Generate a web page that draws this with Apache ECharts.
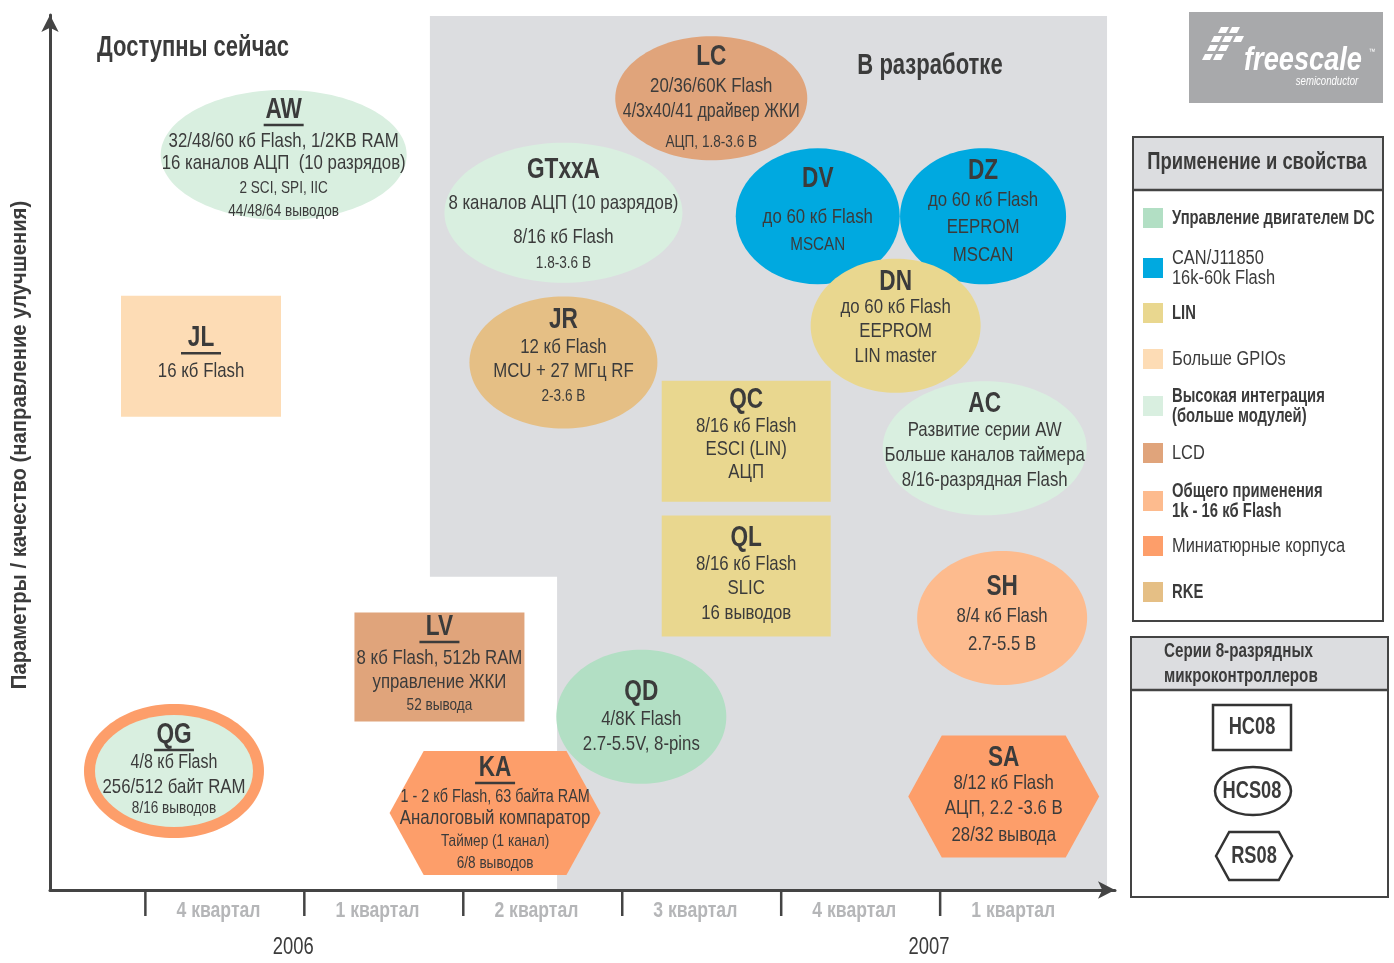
<!DOCTYPE html>
<html>
<head>
<meta charset="utf-8">
<script src="https://cdn.jsdelivr.net/npm/echarts@6/dist/echarts.min.js"></script>
<style>
  html, body { margin: 0; padding: 0; background: #fff; }
  #chart { width: 1394px; height: 963px; }
</style>
</head>
<body>
<div id="chart"></div>
<script>
const FONT = '"Liberation Sans", Arial, sans-serif';
const INK = '#3b3b3b';
const SX = 0.8; // condensed look

// application categories (legend)
const categoryNames = ['Управление двигателем DC', 'CAN/J11850\n16k-60k Flash', 'LIN', 'Больше GPIOs',
  'Высокая интеграция\n(больше модулей)', 'LCD', 'Общего применения\n1k - 16 кб Flash', 'Миниатюрные корпуса', 'RKE'];
const categoryBold = [true, false, true, false, true, false, true, false, true];
const categoryColors = ['#b2dfc4', '#00a9e0', '#e9d78f', '#fddcb5', '#d9efe0', '#e0a47b', '#fdbb8e', '#fd9e6a', '#e5bf85'];

// cores -> outline shape
const coreNames = ['HC08', 'HCS08', 'RS08'];
const coreShapes = ['rect', 'ellipse', 'hexagon'];

// time axis
const quarterBounds = [0, 1, 2, 3, 4, 5];
const quarterLabels = ['4 квартал', '1 квартал', '2 квартал', '3 квартал', '4 квартал', '1 квартал'];
const yearLabels = ['2006', '2007'];
const yearPos = [0.93, 4.93];

// "in development" area (quarter, level)
const devRegion = [[1.79, 99.9], [6.05, 99.9], [6.05, 0], [2.59, 0], [2.59, 35.8], [1.79, 35.8]];

// MCU families
const families = ['AW', 'JL', 'QG', 'LV', 'KA', 'GTxxA', 'LC', 'JR', 'QC', 'QL', 'QD', 'DV', 'DZ', 'DN', 'AC', 'SH', 'SA'];
const familyQuarter = [0.87, 0.35, 0.18, 1.85, 2.2, 2.63, 3.56, 2.63, 3.78, 3.78, 3.12, 4.23, 5.27, 4.72, 5.28, 5.39, 5.4];
const familyLevel = [84.0, 61.0, 13.6, 25.5, 8.8, 77.4, 90.5, 60.3, 51.3, 35.9, 19.8, 77.0, 77.0, 64.5, 50.5, 31.1, 10.7];
const familyCategory = [4, 3, 4, 5, 7, 4, 5, 8, 2, 2, 0, 1, 1, 2, 4, 6, 7];
const familyRing = [-1, -1, 7, -1, -1, -1, -1, -1, -1, -1, -1, -1, -1, -1, -1, -1, -1];
const familyCore = [1, 0, 1, 0, 2, 1, 1, 1, 0, 0, 1, 1, 1, 1, 1, 1, 2];
const familyAvailable = [1, 1, 1, 1, 1, 0, 0, 0, 0, 0, 0, 0, 0, 0, 0, 0, 0];
const familyLines = [
  ['32/48/60 кб Flash, 1/2KB RAM', '16 каналов АЦП  (10 разрядов)', '2 SCI, SPI, IIC', '44/48/64 выводов'],
  ['16 кб Flash'],
  ['4/8 кб Flash', '256/512 байт RAM', '8/16 выводов'],
  ['8 кб Flash, 512b RAM', 'управление ЖКИ', '52 вывода'],
  ['1 - 2 кб Flash, 63 байта RAM', 'Аналоговый компаратор', 'Таймер (1 канал)', '6/8 выводов'],
  ['8 каналов АЦП (10 разрядов)', '8/16 кб Flash', '1.8-3.6 В'],
  ['20/36/60K Flash', '4/3x40/41 драйвер ЖКИ', 'АЦП, 1.8-3.6 В'],
  ['12 кб Flash', 'MCU + 27 МГц RF', '2-3.6 В'],
  ['8/16 кб Flash', 'ESCI (LIN)', 'АЦП'],
  ['8/16 кб Flash', 'SLIC', '16 выводов'],
  ['4/8K Flash', '2.7-5.5V, 8-pins'],
  ['до 60 кб Flash', 'MSCAN'],
  ['до 60 кб Flash', 'EEPROM', 'MSCAN'],
  ['до 60 кб Flash', 'EEPROM', 'LIN master'],
  ['Развитие серии AW', 'Больше каналов таймера', '8/16-разрядная Flash'],
  ['8/4 кб Flash', '2.7-5.5 В'],
  ['8/12 кб Flash', 'АЦП, 2.2 -3.6 В', '28/32 вывода']
];

// box sizes and text offsets, px
const nodeLayout = {
  AW: { w: 246, h: 130, t: -45, dy: [-14, 8, 33, 56], fs: [20, 20, 16, 16] },
  JL: { w: 160, h: 121, t: -18, dy: [15], fs: [20] },
  QG: { w: 180, h: 134, t: -36, dy: [-9, 16, 37], fs: [19, 20, 16] },
  LV: { w: 170, h: 109, t: -40, dy: [-9, 15, 38], fs: [20, 20, 16] },
  KA: { w: 211, h: 124, t: -45, dy: [-16, 5, 28, 50], fs: [17, 20, 16, 16] },
  GTxxA: { w: 238, h: 140, t: -43, dy: [-10, 24, 51], fs: [20, 20, 16] },
  LC: { w: 192, h: 124, t: -41, dy: [-12, 13, 44], fs: [20, 19, 16] },
  JR: { w: 188, h: 132, t: -42, dy: [-15, 9, 34], fs: [20, 20, 16] },
  QC: { w: 169, h: 121, t: -41, dy: [-15, 8, 31], fs: [20, 20, 20] },
  QL: { w: 169, h: 121, t: -38, dy: [-12, 12, 37], fs: [20, 20, 20] },
  QD: { w: 170, h: 134, t: -25, dy: [2, 27], fs: [20, 20] },
  DV: { w: 164, h: 136, t: -37, dy: [1, 29], fs: [20, 18] },
  DZ: { w: 166, h: 136, t: -45, dy: [-16, 11, 39], fs: [20, 20, 20] },
  DN: { w: 170, h: 134, t: -44, dy: [-18, 6, 31], fs: [20, 20, 20] },
  AC: { w: 204, h: 134, t: -44, dy: [-18, 7, 32], fs: [20, 20, 20] },
  SH: { w: 170, h: 134, t: -31, dy: [-2, 26], fs: [20, 20] },
  SA: { w: 191, h: 122, t: -38, dy: [-13, 12, 39], fs: [20, 20, 20] }
};

function hexPoints(cx, cy, w, h) {
  const hw = w / 2, hh = h / 2, ins = hh * 0.55;
  return [[cx - hw, cy], [cx - hw + ins, cy - hh], [cx + hw - ins, cy - hh],
          [cx + hw, cy], [cx + hw - ins, cy + hh], [cx - hw + ins, cy + hh]];
}

function txt(text, x, y, size, opts) {
  opts = opts || {};
  return {
    type: 'text', x: x, y: y, z: opts.z || 0, z2: 20,
    scaleX: opts.sx || SX, rotation: opts.rotation || 0,
    style: {
      text: text, fill: opts.fill || INK,
      font: (opts.italic ? 'italic ' : '') + (opts.bold ? 'bold ' : '') + size + 'px ' + (opts.family || FONT),
      align: opts.align || 'center', verticalAlign: 'middle', lineHeight: opts.lineHeight
    }
  };
}

function renderFamily(params, api) {
  const i = api.value(2);
  const code = families[i];
  const L = nodeLayout[code];
  const c = api.coord([api.value(0), api.value(1)]);
  const fill = categoryColors[familyCategory[i]];
  const shape = coreShapes[familyCore[i]];
  const kids = [];
  if (shape === 'ellipse') {
    if (familyRing[i] >= 0) {
      kids.push({ type: 'ellipse', shape: { cx: c[0], cy: c[1], rx: L.w / 2, ry: L.h / 2 }, style: { fill: categoryColors[familyRing[i]] } });
      kids.push({ type: 'ellipse', shape: { cx: c[0], cy: c[1], rx: L.w / 2 - 11, ry: L.h / 2 - 11 }, style: { fill: fill } });
    } else {
      kids.push({ type: 'ellipse', shape: { cx: c[0], cy: c[1], rx: L.w / 2, ry: L.h / 2 }, style: { fill: fill } });
    }
  } else if (shape === 'rect') {
    kids.push({ type: 'rect', shape: { x: c[0] - L.w / 2, y: c[1] - L.h / 2, width: L.w, height: L.h }, style: { fill: fill } });
  } else {
    kids.push({ type: 'polygon', shape: { points: hexPoints(c[0], c[1], L.w, L.h) }, style: { fill: fill } });
  }
  kids.push(txt(code, c[0], c[1] + L.t, 29, { bold: true, sx: 0.78 }));
  if (familyAvailable[i]) {
    const uw = code.length * 14 + 12;
    kids.push({ type: 'line', shape: { x1: c[0] - uw / 2, y1: c[1] + L.t + 15, x2: c[0] + uw / 2, y2: c[1] + L.t + 15 },
      style: { stroke: INK, lineWidth: 2.5 } });
  }
  familyLines[i].forEach(function (s, k) {
    kids.push(txt(s, c[0], c[1] + L.dy[k], L.fs[k] + 1));
  });
  return { type: 'group', children: kids };
}

function renderRegion(params, api) {
  const pts = devRegion.map(function (p) { return api.coord(p); });
  return { type: 'polygon', shape: { points: pts }, style: { fill: '#dcdde0' } };
}

function renderQuarter(params, api) {
  const q = api.value(0);
  const base = api.coord([q, 0]);
  const mid = api.coord([q + 0.46, 0]);
  return {
    type: 'group', children: [
      { type: 'line', shape: { x1: base[0], y1: base[1], x2: base[0], y2: base[1] + 26 }, style: { stroke: '#444', lineWidth: 2.5 } },
      txt(quarterLabels[params.dataIndex], mid[0], base[1] + 21, 22, { bold: true, fill: '#b5b6b8' })
    ]
  };
}

function renderYear(params, api) {
  const p = api.coord([api.value(0), 0]);
  return txt(yearLabels[params.dataIndex], p[0], p[1] + 58, 23);
}

// titles, legend and logo as fixed graphics
const graphics = [];
graphics.push(txt('Доступны сейчас', 193, 48, 29, { bold: true, z: 10, sx: 0.76 }));
graphics.push(txt('В разработке', 930, 66, 29, { bold: true, z: 10, sx: 0.76 }));
graphics.push(txt('Параметры / качество (направление улучшения)', 20, 445, 22, { bold: true, z: 10, rotation: Math.PI / 2, sx: 0.92 }));

// logo
graphics.push({ type: 'rect', shape: { x: 1189, y: 12, width: 194, height: 91 }, style: { fill: '#a8a9ab' } });
[[1218, 30], [1229, 30], [1211, 39], [1222, 39], [1233, 39], [1207, 48], [1218, 48], [1202, 57], [1213, 57]].forEach(function (p) {
  graphics.push({ type: 'polygon', shape: { points: [[p[0] + 3, p[1] - 3], [p[0] + 11, p[1] - 3], [p[0] + 8, p[1] + 3], [p[0], p[1] + 3]] }, style: { fill: '#fff' } });
});
graphics.push(txt('freescale', 1303, 61, 34, { bold: true, italic: true, fill: '#fff' }));
graphics.push(txt('™', 1372, 52, 8, { fill: '#fff' }));
graphics.push(txt('semiconductor', 1327, 82, 12, { italic: true, fill: '#fff' }));

// legend: application
graphics.push({ type: 'rect', shape: { x: 1133, y: 137, width: 250, height: 53 }, style: { fill: '#dcdde0' } });
graphics.push({ type: 'rect', shape: { x: 1133, y: 137, width: 250, height: 484 }, style: { fill: 'none', stroke: '#444', lineWidth: 2 } });
graphics.push({ type: 'line', shape: { x1: 1133, y1: 190, x2: 1383, y2: 190 }, style: { stroke: '#444', lineWidth: 2.5 } });
graphics.push(txt('Применение и свойства', 1257, 163, 23, { bold: true }));
const legendY = [218, 268, 313, 359, 406, 453, 501, 546, 592];
categoryNames.forEach(function (name, k) {
  graphics.push({ type: 'rect', shape: { x: 1143, y: legendY[k] - 10, width: 20, height: 20 }, style: { fill: categoryColors[k] } });
  graphics.push(txt(name, 1172, legendY[k], 20, { bold: categoryBold[k], align: 'left', lineHeight: 20, sx: categoryBold[k] ? 0.74 : 0.82 }));
});

// legend: cores
graphics.push({ type: 'rect', shape: { x: 1131, y: 637, width: 257, height: 53 }, style: { fill: '#dcdde0' } });
graphics.push({ type: 'rect', shape: { x: 1131, y: 637, width: 257, height: 260 }, style: { fill: 'none', stroke: '#444', lineWidth: 2 } });
graphics.push({ type: 'line', shape: { x1: 1131, y1: 690, x2: 1388, y2: 690 }, style: { stroke: '#444', lineWidth: 2.5 } });
graphics.push(txt('Серии 8-разрядных\nмикроконтроллеров', 1164, 664, 20, { bold: true, align: 'left', lineHeight: 25, sx: 0.76 }));
const coreY = [727, 791, 856];
coreNames.forEach(function (name, k) {
  const y = coreY[k], cx = 1253;
  const st = { fill: '#fff', stroke: '#333', lineWidth: 2.5 };
  if (coreShapes[k] === 'rect') graphics.push({ type: 'rect', shape: { x: 1213, y: y - 22, width: 78, height: 45 }, style: st });
  else if (coreShapes[k] === 'ellipse') graphics.push({ type: 'ellipse', shape: { cx: cx, cy: y, rx: 38, ry: 24 }, style: st });
  else graphics.push({ type: 'polygon', shape: { points: hexPoints(1254, y, 76, 48) }, style: st });
  graphics.push(txt(name, coreShapes[k] === 'hexagon' ? 1254 : 1252, y, 24, { bold: true, sx: 0.76 }));
});

const axisLine = { show: true, onZero: false, symbol: ['none', 'arrow'], symbolSize: [13, 17], lineStyle: { color: '#444', width: 3 } };

const myChart = echarts.init(document.getElementById('chart'));
myChart.setOption({
  animation: false,
  backgroundColor: '#fff',
  grid: { left: 50, right: 279, top: 15, bottom: 73, containLabel: false, outerBoundsMode: 'none' },
  xAxis: { type: 'value', min: -0.6, max: 6.1, axisLine: axisLine, axisTick: { show: false }, axisLabel: { show: false }, splitLine: { show: false }, z: 10 },
  yAxis: { type: 'value', min: 0, max: 100, axisLine: axisLine, axisTick: { show: false }, axisLabel: { show: false }, splitLine: { show: false }, z: 10 },
  graphic: graphics,
  series: [
    { type: 'custom', renderItem: renderRegion, data: [[0]], silent: true, clip: false, z: 1 },
    { type: 'custom', renderItem: renderQuarter, data: quarterBounds.map(function (q) { return [q]; }), silent: true, clip: false, z: 3 },
    { type: 'custom', renderItem: renderYear, data: yearPos.map(function (q) { return [q]; }), silent: true, clip: false, z: 3 },
    {
      type: 'custom', renderItem: renderFamily, silent: true, clip: false, z: 4,
      data: families.map(function (f, i) { return [familyQuarter[i], familyLevel[i], i]; })
    }
  ]
});
</script>
</body>
</html>
